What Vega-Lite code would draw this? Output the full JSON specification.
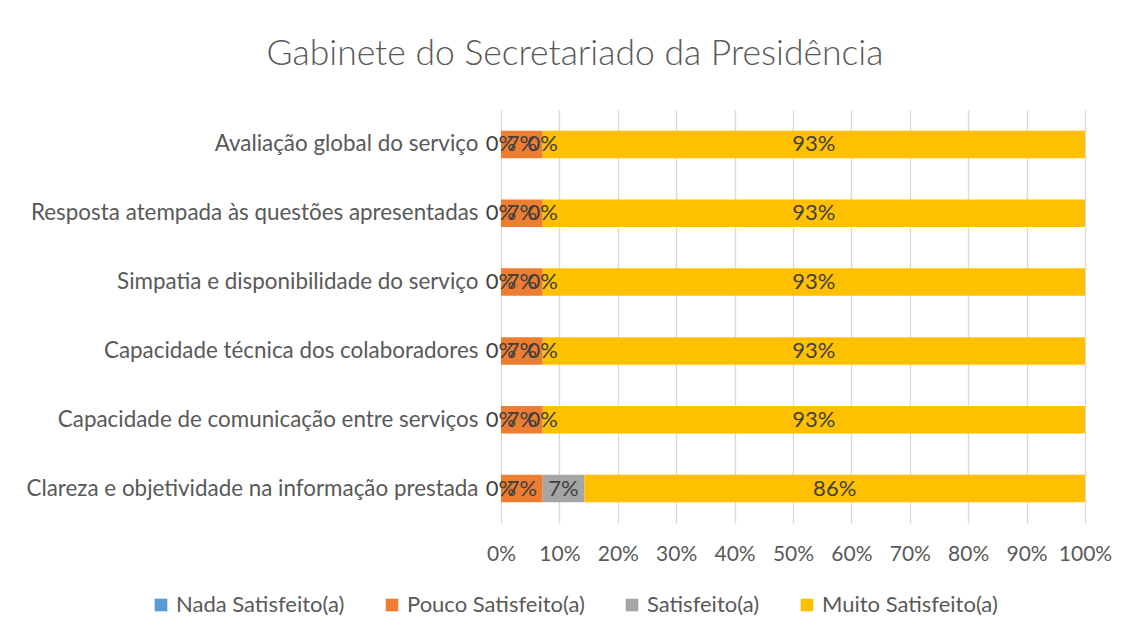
{
  "$schema": "https://vega.github.io/schema/vega-lite/v6.json",
  "autosize": {"type": "none"},
  "width": 584,
  "height": 413,
  "padding": {"left": 501, "top": 110, "right": 45, "bottom": 115},
  "background": "white",
  "title": {
    "text": "Gabinete do Secretariado da Presidência",
    "font": "Lato",
    "fontWeight": 300,
    "fontSize": 35.5,
    "color": "#595959",
    "anchor": "middle",
    "dx": -218,
    "offset": 38
  },
  "data": {
    "values": [
      {"item": "Avaliação global do serviço", "nivel": "Nada Satisfeito(a)", "n": 1, "valor": 0},
      {"item": "Avaliação global do serviço", "nivel": "Pouco Satisfeito(a)", "n": 2, "valor": 0.0714},
      {"item": "Avaliação global do serviço", "nivel": "Satisfeito(a)", "n": 3, "valor": 0},
      {"item": "Avaliação global do serviço", "nivel": "Muito Satisfeito(a)", "n": 4, "valor": 0.9286},
      {"item": "Resposta atempada às questões apresentadas", "nivel": "Nada Satisfeito(a)", "n": 1, "valor": 0},
      {"item": "Resposta atempada às questões apresentadas", "nivel": "Pouco Satisfeito(a)", "n": 2, "valor": 0.0714},
      {"item": "Resposta atempada às questões apresentadas", "nivel": "Satisfeito(a)", "n": 3, "valor": 0},
      {"item": "Resposta atempada às questões apresentadas", "nivel": "Muito Satisfeito(a)", "n": 4, "valor": 0.9286},
      {"item": "Simpatia e disponibilidade do serviço", "nivel": "Nada Satisfeito(a)", "n": 1, "valor": 0},
      {"item": "Simpatia e disponibilidade do serviço", "nivel": "Pouco Satisfeito(a)", "n": 2, "valor": 0.0714},
      {"item": "Simpatia e disponibilidade do serviço", "nivel": "Satisfeito(a)", "n": 3, "valor": 0},
      {"item": "Simpatia e disponibilidade do serviço", "nivel": "Muito Satisfeito(a)", "n": 4, "valor": 0.9286},
      {"item": "Capacidade técnica dos colaboradores", "nivel": "Nada Satisfeito(a)", "n": 1, "valor": 0},
      {"item": "Capacidade técnica dos colaboradores", "nivel": "Pouco Satisfeito(a)", "n": 2, "valor": 0.0714},
      {"item": "Capacidade técnica dos colaboradores", "nivel": "Satisfeito(a)", "n": 3, "valor": 0},
      {"item": "Capacidade técnica dos colaboradores", "nivel": "Muito Satisfeito(a)", "n": 4, "valor": 0.9286},
      {"item": "Capacidade de comunicação entre serviços", "nivel": "Nada Satisfeito(a)", "n": 1, "valor": 0},
      {"item": "Capacidade de comunicação entre serviços", "nivel": "Pouco Satisfeito(a)", "n": 2, "valor": 0.0714},
      {"item": "Capacidade de comunicação entre serviços", "nivel": "Satisfeito(a)", "n": 3, "valor": 0},
      {"item": "Capacidade de comunicação entre serviços", "nivel": "Muito Satisfeito(a)", "n": 4, "valor": 0.9286},
      {"item": "Clareza e objetividade na informação prestada", "nivel": "Nada Satisfeito(a)", "n": 1, "valor": 0},
      {"item": "Clareza e objetividade na informação prestada", "nivel": "Pouco Satisfeito(a)", "n": 2, "valor": 0.0714},
      {"item": "Clareza e objetividade na informação prestada", "nivel": "Satisfeito(a)", "n": 3, "valor": 0.0714},
      {"item": "Clareza e objetividade na informação prestada", "nivel": "Muito Satisfeito(a)", "n": 4, "valor": 0.8572}
    ]
  },
  "transform": [
    {"stack": "valor", "groupby": ["item"], "sort": [{"field": "n"}], "as": ["v0", "v1"]},
    {"calculate": "(datum.v0 + datum.v1) / 2", "as": "meio"}
  ],
  "encoding": {
    "y": {
      "field": "item",
      "type": "nominal",
      "sort": null,
      "scale": {"paddingInner": 0.6, "paddingOuter": 0.3},
      "axis": {
        "title": null,
        "ticks": false,
        "domain": false,
        "labelFont": "Lato",
        "labelFontSize": 22.4,
        "labelColor": "#595959",
        "labelPadding": 23,
        "labelLimit": 600
      }
    }
  },
  "layer": [
    {
      "mark": {"type": "bar"},
      "encoding": {
        "x": {
          "field": "v0",
          "type": "quantitative",
          "scale": {"domain": [0, 1], "nice": false},
          "axis": {
            "title": null,
            "format": ".0%",
            "values": [0, 0.1, 0.2, 0.3, 0.4, 0.5, 0.6, 0.7, 0.8, 0.9, 1],
            "labelOverlap": false,
            "labelFlush": false,
            "labelBound": false,
            "ticks": false,
            "domain": false,
            "grid": true,
            "gridColor": "#d9d9d9",
            "gridWidth": 1.3,
            "labelFont": "Lato",
            "labelFontSize": 21,
            "labelColor": "#595959",
            "labelPadding": 20
          }
        },
        "x2": {"field": "v1"},
        "color": {
          "field": "nivel",
          "type": "nominal",
          "scale": {
            "domain": ["Nada Satisfeito(a)", "Pouco Satisfeito(a)", "Satisfeito(a)", "Muito Satisfeito(a)"],
            "range": ["#5B9BD5", "#ED7D31", "#A5A5A5", "#FFC000"]
          },
          "legend": {
            "title": null,
            "orient": "none",
            "direction": "horizontal",
            "legendX": -351,
            "legendY": 484,
            "symbolType": "square",
            "symbolSize": 160,
            "symbolStrokeWidth": 0,
            "symbolOpacity": 1,
            "labelFont": "Lato",
            "labelFontSize": 22,
            "labelColor": "#595959",
            "labelOffset": 4,
            "labelLimit": 400,
            "columnPadding": 36
          }
        }
      }
    },
    {
      "mark": {"type": "text", "font": "Lato", "fontSize": 22, "color": "#404040"},
      "encoding": {
        "x": {"field": "meio", "type": "quantitative"},
        "text": {"field": "valor", "type": "quantitative", "format": ".0%"}
      }
    }
  ],
  "config": {"view": {"stroke": null}}
}
